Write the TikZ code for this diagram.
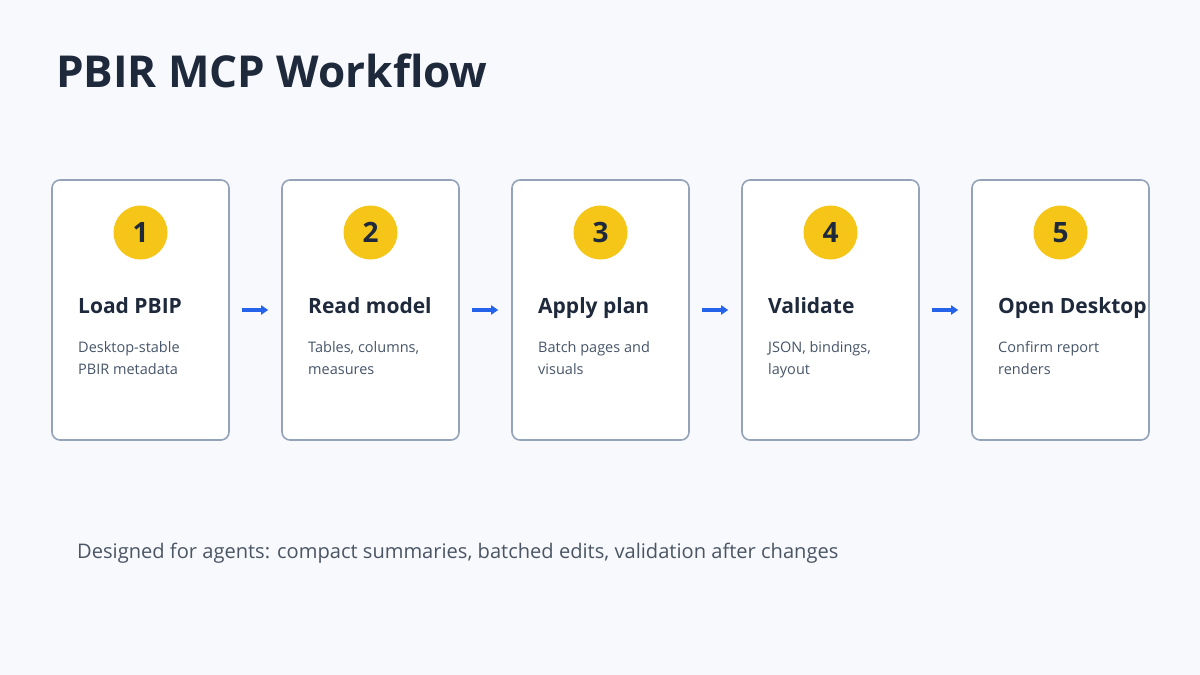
\documentclass[tikz,border=0pt]{standalone}
\usepackage{fontspec}
\setmainfont{Open Sans}
\usetikzlibrary{arrows.meta}
\definecolor{bg}{HTML}{F7F9FC}
\definecolor{navy}{HTML}{1E293B}
\definecolor{cardline}{HTML}{94A3B8}
\definecolor{gold}{HTML}{F5C518}
\definecolor{flowblue}{HTML}{2563EB}
\definecolor{desc}{HTML}{475569}
\definecolor{foot}{HTML}{4B5563}
\begin{document}
\begin{tikzpicture}[x=1pt,y=-1pt,
  card/.style={draw=cardline, line width=1.6pt, fill=white, rounded corners=8pt,
    minimum width=177pt, minimum height=260pt, inner sep=0pt},
  badge/.style={circle, fill=gold, minimum size=54pt, inner sep=0pt,
    font=\bfseries\fontsize{28}{28}\selectfont, text=navy},
  steptitle/.style={anchor=base west, inner sep=0pt,
    font=\bfseries\fontsize{21}{24}\selectfont, text=navy},
  stepdesc/.style={anchor=base west, inner sep=0pt, align=left,
    font=\fontsize{14.5}{22}\selectfont, text=desc},
  flow/.style={draw=flowblue, line width=3.4pt,
    -{Triangle[length=7pt,width=9pt]}}]
\fill[bg] (0,0) rectangle (1200,675);
\useasboundingbox (0,0) rectangle (1200,675);

\node[anchor=base west, inner sep=0pt, text=navy,
  font=\bfseries\fontsize{44}{48}\selectfont] (title) at (56,87) {PBIR MCP Workflow};

\foreach \i/\t/\da/\db [count=\n from 0] in
  {1/Load PBIP/Desktop-stable/PBIR metadata,
   2/Read model/{Tables, columns,}/measures,
   3/Apply plan/Batch pages and/visuals,
   4/Validate/{JSON, bindings,}/layout,
   5/Open Desktop/Confirm report/renders}{
  \node[card] (c\i) at (140.5+230*\n,310) {};
  \node[badge] (b\i) at (140.5+230*\n,232.5) {\i};
  \node[steptitle] (t\i) at (78+230*\n,313) {\t};
  \node[stepdesc] (d\i) at (78+230*\n,374) {\da\\\db};
}
\foreach \a/\b in {1/2,2/3,3/4,4/5}
  \draw[flow] ([xshift=12pt]c\a.east) -- ([xshift=-13pt]c\b.west);

\node[anchor=base west, inner sep=0pt, text=foot,
  font=\fontsize{20.1}{22}\selectfont] (foot) at (77,558)
  {Designed for agents: compact summaries, batched edits, validation after changes};
\end{tikzpicture}
\end{document}
